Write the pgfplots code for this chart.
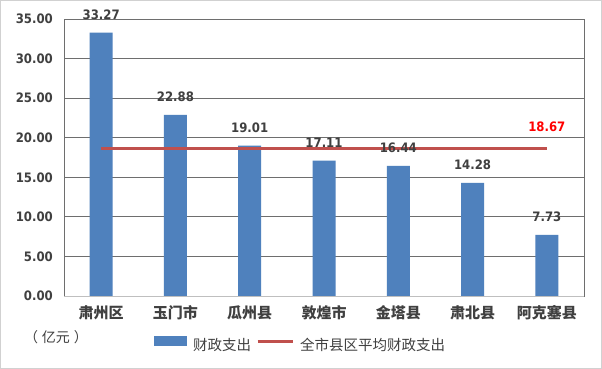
\documentclass[border=0pt]{standalone}
\usepackage{pgfplots}
\pgfplotsset{compat=1.18}
\usepackage{fontspec}
\setmainfont{DejaVu Sans}
\newfontfamily\numfont[FakeStretch=0.9]{DejaVu Sans}
\newfontfamily\cjk{Noto Sans CJK SC}
\definecolor{barblue}{HTML}{4F81BD}
\definecolor{linered}{HTML}{C0504D}
\definecolor{txt}{HTML}{404040}
\definecolor{gridc}{HTML}{6E6E6E}
\begin{document}
\begin{tikzpicture}
\path[use as bounding box] (0,0) rectangle (602bp,369bp);
\fill[white] (0,0) rectangle (602bp,369bp);
\draw[line width=1bp, color=black!18] (0.5bp,0.5bp) rectangle (601.5bp,368.5bp);
\begin{axis}[
  at={(64bp,73bp)}, anchor=south west,
  scale only axis, width=520bp, height=277bp,
  xmin=-0.5, xmax=6.5, ymin=0, ymax=35,
  ytick={0,5,...,35},
  xtick={0,...,6},
  xticklabels={肃州区,玉门市,瓜州县,敦煌市,金塔县,肃北县,阿克塞县},
  major tick length=0pt,
  axis line style={draw=gridc, line width=0.8bp},
  ymajorgrids, grid style={draw=gridc, line width=0.8bp},
  xticklabel style={font=\cjk\bfseries\fontsize{15bp}{17bp}\selectfont, text=txt, anchor=base, inner sep=0pt, yshift=-22bp},
  yticklabel style={font=\numfont\bfseries\fontsize{13bp}{15bp}\selectfont, text=txt, anchor=east, inner sep=0pt, xshift=-11bp},
  /pgf/number format/.cd, fixed, fixed zerofill, precision=2, assume math mode=true,
  /pgfplots/.cd,
  legend columns=2,
  legend style={at={(0.1731,-0.1733)}, anchor=west, draw=none, fill=none,
    inner sep=0pt, outer sep=0pt, column sep=6bp,
    nodes={inner sep=0pt},
    font=\cjk\fontsize{14.5bp}{16bp}\selectfont, text=txt,
    /tikz/every even column/.append style={column sep=5bp}},
  clip=false,
]
\addplot[ybar, bar shift=0pt, bar width=23bp, fill=barblue, draw=none,
  legend image code/.code={\fill[barblue] (0bp,-1bp) rectangle (33bp,9bp);}]
  coordinates {(0,33.27) (1,22.88) (2,19.01) (3,17.11) (4,16.44) (5,14.28) (6,7.73)};
\addlegendentry{财政支出}
\addplot[sharp plot, no marks, color=linered, line width=3bp,
  legend image code/.code={\draw[linered, line width=3bp] (0bp,4bp)--(35bp,4bp);}]
  coordinates {(0,18.67) (6,18.67)};
\addlegendentry{全市县区平均财政支出}
\addplot[draw=none, mark=none, forget plot, nodes near coords,
  every node near coord/.append style={anchor=base, inner sep=0pt, yshift=13bp,
    font=\numfont\bfseries\fontsize{13bp}{15bp}\selectfont, text=txt}]
  coordinates {(0,33.27) (1,22.88) (2,19.01) (3,17.11) (4,16.44) (5,14.28) (6,7.73)};
\draw[black!25, line width=1bp] (axis cs:-0.5,0) -- (axis cs:6.5,0);
\node[anchor=base, inner sep=0pt, text=red, font=\numfont\bfseries\fontsize{13bp}{15bp}\selectfont, yshift=17bp] at (axis cs:6,18.67) {18.67};
\end{axis}
\node[text=txt, font=\cjk\fontsize{14bp}{16bp}\selectfont, inner sep=0pt] at (56bp,32bp) {（\hspace{4bp}亿元\hspace{4bp}）};
\end{tikzpicture}
\end{document}
